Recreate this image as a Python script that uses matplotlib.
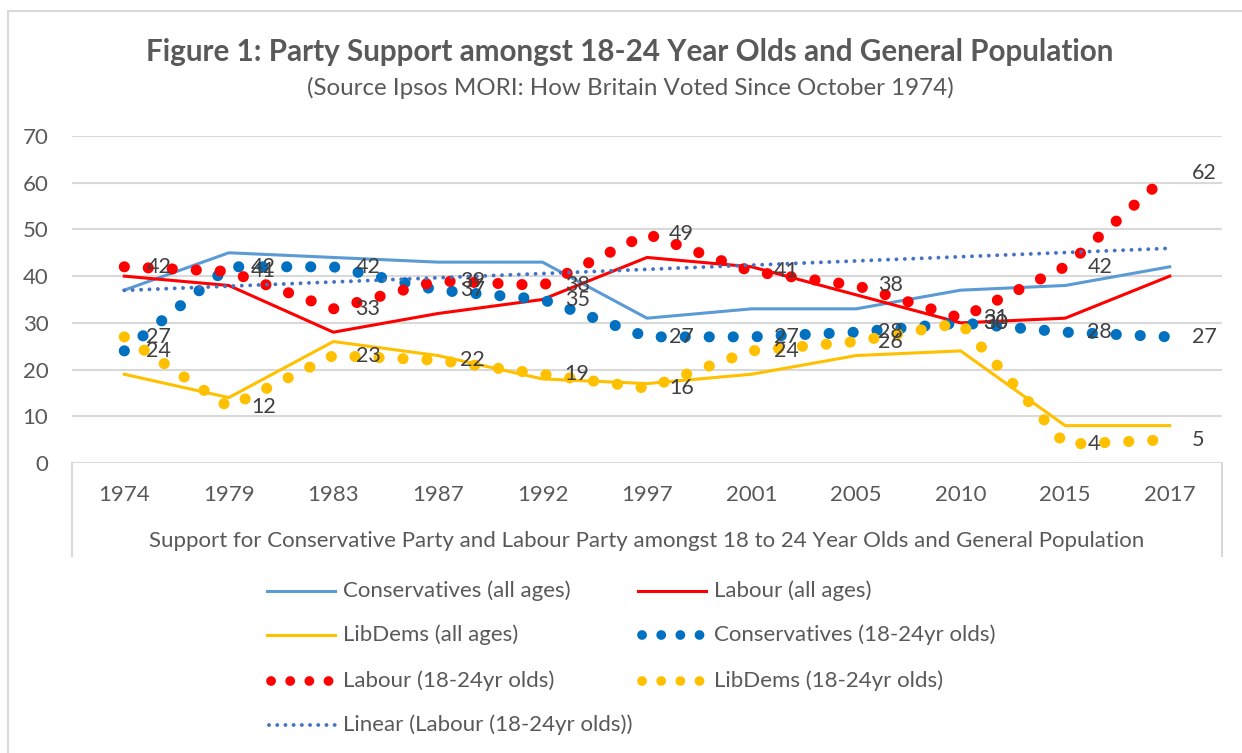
import matplotlib
matplotlib.use("Agg")
import matplotlib.pyplot as plt
from matplotlib.lines import Line2D
import numpy as np

# ---- data ----
years = ["1974", "1979", "1983", "1987", "1992", "1997", "2001", "2005", "2010", "2015", "2017"]
con_all = [37, 45, 44, 43, 43, 31, 33, 33, 37, 38, 42]
lab_all = [40, 38, 28, 32, 35, 44, 42, 36, 30, 31, 40]
lib_all = [19, 14, 26, 23, 18, 17, 19, 23, 24, 8, 8]
con_young = [24, 42, 42, 37, 35, 27, 27, 28, 30, 28, 27]
lab_young = [42, 41, 33, 39, 38, 49, 41, 38, 31, 42, 62]
lib_young = [27, 12, 23, 22, 19, 16, 24, 26, 30, 4, 5]

C_CON = "#5B9BD5"
C_CON_Y = "#0070C0"
C_LAB = "#FF0000"
C_LIB = "#FFC000"
C_TREND = "#4472C4"
GRID = "#D9D9D9"
TXT = "#595959"
LBL = "#404040"

plt.rcParams['font.family'] = ['Lato', 'DejaVu Sans']
FS = 16

W, H = 1242, 753
fig = plt.figure(figsize=(W / 100, H / 100), dpi=100)
ax = fig.add_axes([72 / W, 1 - 463 / H, 1150 / W, 327 / H])

x = np.arange(len(years))
big_dots = (0, (0.01, 2.15))

ax.plot(x, con_all, color=C_CON, lw=2.2, zorder=3)
ax.plot(x, lab_all, color=C_LAB, lw=2.2, zorder=3)
ax.plot(x, lib_all, color=C_LIB, lw=2.2, zorder=3)
ax.plot(x, con_young, color=C_CON_Y, lw=8, linestyle=big_dots, dash_capstyle='round', zorder=4)
ax.plot(x, lab_young, color=C_LAB, lw=8, linestyle=big_dots, dash_capstyle='round', zorder=4)
ax.plot(x, lib_young, color=C_LIB, lw=8, linestyle=big_dots, dash_capstyle='round', zorder=4)

# linear trendline of Labour 18-24 (as Excel does)
coef = np.polyfit(x, lab_young, 1)
ax.plot(x, np.polyval(coef, x), color=C_TREND, lw=2.8, linestyle=(0, (0.01, 2.15)),
        dash_capstyle='round', zorder=5)

# data labels to the right of each 18-24 point
for series in (lab_young, lib_young, con_young):
    for xi, v in zip(x, series):
        ax.annotate(str(v), (xi, v), xytext=(16, 0), textcoords='offset points',
                    ha='left', va='center', fontsize=15.5, color=LBL, zorder=6)

ax.set_xlim(-0.5, len(years) - 0.5)
ax.set_ylim(0, 70)
ax.set_yticks(range(0, 71, 10))
ax.set_xticks(x)
ax.set_xticklabels(years)
ax.grid(axis='y', color=GRID, lw=1.5, zorder=0)
ax.set_axisbelow(True)
for s in ax.spines.values():
    s.set_visible(False)
ax.tick_params(axis='y', length=0, pad=17, labelsize=FS, labelcolor=TXT)
ax.tick_params(axis='x', length=0, pad=16, labelsize=FS, labelcolor=TXT)

# box below the plot area and chart border
fx = lambda px: px / W
fy = lambda py: 1 - py / H
for px in (72, 1222):
    fig.add_artist(Line2D([fx(px), fx(px)], [fy(463), fy(556)], color=GRID, lw=1.5))
fig.add_artist(Line2D([fx(8), fx(8)], [0, fy(11)], color=GRID, lw=1.5))
fig.add_artist(Line2D([fx(8), 1], [fy(11), fy(11)], color=GRID, lw=1.5))

# titles
fig.text(fx(630), fy(52), "Figure 1: Party Support amongst 18-24 Year Olds and General Population",
         ha='center', va='center', fontsize=21.3, fontweight='bold', color=TXT)
fig.text(fx(630), fy(88), "(Source Ipsos MORI: How Britain Voted Since October 1974)",
         ha='center', va='center', fontsize=17.4, color=TXT)
fig.text(fx(647), fy(541), "Support for Conservative Party and Labour Party amongst 18 to 24 Year Olds and General Population",
         ha='center', va='center', fontsize=FS, color=TXT)

# legend (two columns, row-major like Excel)
legend_items = [
    ("Conservatives (all ages)", C_CON, 'solid', 267, 591),
    ("Labour (all ages)", C_LAB, 'solid', 638, 591),
    ("LibDems (all ages)", C_LIB, 'solid', 267, 635),
    ("Conservatives (18-24yr olds)", C_CON_Y, 'dots', 638, 635),
    ("Labour (18-24yr olds)", C_LAB, 'dots', 267, 681),
    ("LibDems (18-24yr olds)", C_LIB, 'dots', 638, 681),
    ("Linear (Labour (18-24yr olds))", C_TREND, 'trend', 267, 725),
]
for label, color, kind, px, py in legend_items:
    if kind == 'solid':
        h = Line2D([fx(px), fx(px + 68)], [fy(py), fy(py)], color=color, lw=2.2)
    elif kind == 'dots':
        h = Line2D([fx(px + 4), fx(px + 63)], [fy(py), fy(py)], color=color, lw=7,
                   linestyle=(0, (0.01, 1.96)), dash_capstyle='round')
    else:
        h = Line2D([fx(px + 2), fx(px + 68)], [fy(py), fy(py)], color=color, lw=2.8,
                   linestyle=(0, (0.01, 2.1)), dash_capstyle='round')
    fig.add_artist(h)
    fig.text(fx(px + 76), fy(py), label, ha='left', va='center', fontsize=FS, color=TXT)

fig.savefig("out.png", dpi=100)
